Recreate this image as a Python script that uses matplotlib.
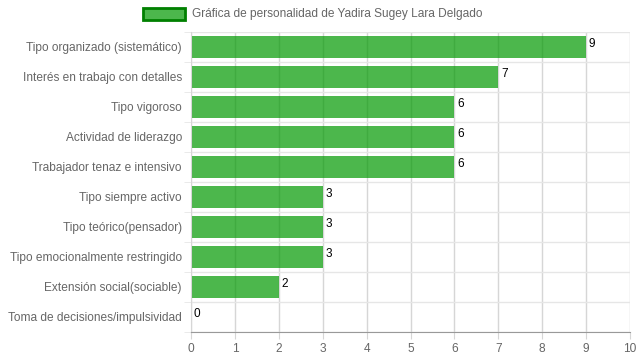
import matplotlib.pyplot as plt
from matplotlib.patches import Rectangle

plt.rcParams["font.family"] = ["Liberation Sans", "DejaVu Sans"]

categories = [
    "Tipo organizado (sistemático)",
    "Interés en trabajo con detalles",
    "Tipo vigoroso",
    "Actividad de liderazgo",
    "Trabajador tenaz e intensivo",
    "Tipo siempre activo",
    "Tipo teórico(pensador)",
    "Tipo emocionalmente restringido",
    "Extensión social(sociable)",
    "Toma de decisiones/impulsividad",
]
values = [9, 7, 6, 6, 6, 3, 3, 3, 2, 0]
x_ticks = list(range(0, 11))
legend_label = "Gráfica de personalidad de Yadira Sugey Lara Delgado"

bar_color = (0.0, 0.6, 0.0, 0.7)
edge_color = "#008000"
grid_color = "#d6d6d6"
text_color = "#666666"

fig = plt.figure(figsize=(6.39, 3.6), dpi=100)
ax = fig.add_axes([191 / 639, 1 - 332 / 360, (630 - 191) / 639, 300 / 360])

n = len(categories)
pos = list(range(n))
ax.barh(pos, values, height=0.72, color=bar_color, linewidth=0, zorder=2)
for p, v in zip(pos, values):
    ax.annotate(str(v), xy=(v, p - 0.36), xytext=(2, -1), textcoords="offset points",
                ha="left", va="top", fontsize=8.5, color="black")

ax.set_xlim(0, 10)
ax.set_ylim(n - 0.5, -0.5)
ax.set_xticks(x_ticks)
ax.set_yticks(pos)
ax.set_yticklabels(categories)
ax.set_yticks([i - 0.5 for i in range(n + 1)], minor=True)
ax.grid(True, axis="x", color=grid_color, linewidth=1, zorder=0)
ax.grid(True, axis="y", which="minor", color="#e6e6e6", linewidth=1, zorder=0)
ax.tick_params(axis="y", which="major", length=0, pad=6.5, labelsize=8.6, labelcolor=text_color)
ax.tick_params(axis="y", which="minor", length=5, color="#e6e6e6")
ax.tick_params(axis="x", length=5, color=grid_color, labelsize=8.6, labelcolor=text_color, pad=3)
for side in ["top", "right"]:
    ax.spines[side].set_visible(False)
ax.spines["left"].set_color(grid_color)
ax.spines["bottom"].set_color("#999999")

# legend like chart.js
fig.patches.append(Rectangle((143 / 639, 1 - 20 / 360), 42 / 639, 12 / 360,
                             transform=fig.transFigure, facecolor=bar_color,
                             edgecolor=edge_color, linewidth=2))
fig.text(192 / 639, 1 - 14 / 360, legend_label, ha="left", va="center",
         fontsize=8.6, color=text_color)

fig.savefig("out.png", dpi=100)
